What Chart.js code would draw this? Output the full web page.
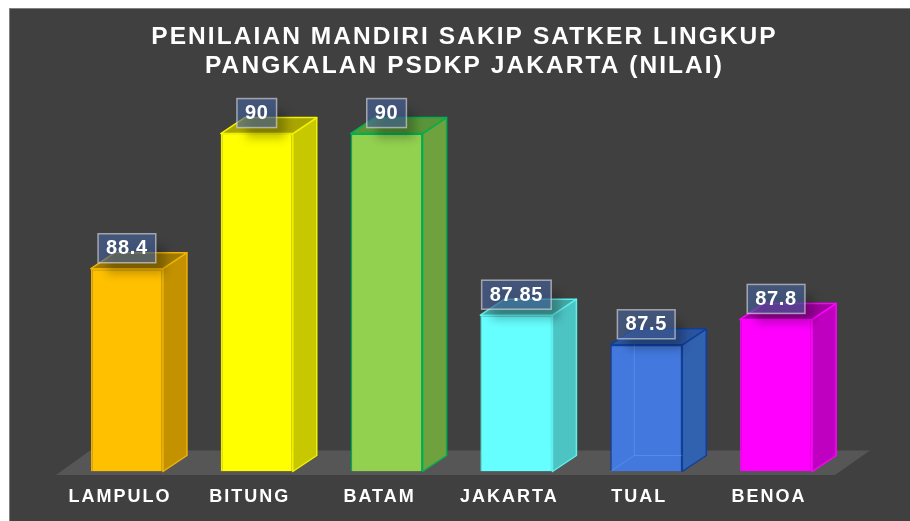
<!DOCTYPE html>
<html>
<head>
<meta charset="utf-8">
<style>
  html, body { margin: 0; padding: 0; background: #ffffff; }
  #wrap { position: absolute; left: 0; top: 0; width: 910px; height: 521px; }
</style>
</head>
<body>
<div id="wrap"><canvas id="grafik"></canvas></div>
<script src="https://cdn.jsdelivr.net/npm/chart.js@4"></script>
<script>
const JUDUL = ["PENILAIAN MANDIRI SAKIP SATKER LINGKUP", "PANGKALAN PSDKP JAKARTA (NILAI)"]
const SATKER = ["LAMPULO", "BITUNG", "BATAM", "JAKARTA", "TUAL", "BENOA"]
const NILAI = [88.4, 90, 90, 87.85, 87.5, 87.8]
const Y_MIN = 86
const Y_MAX = 90

const WARNA_DEPAN = ["#ffc000", "#ffff00", "#92d050", "#66ffff", "#4379df", "#ff00ff"]
const WARNA_GARIS = ["#f0b400", "#f2f200", "#00b050", "#5fefef", "#0f3f9c", "#ff00ff"]
const WARNA_SISI = ["#c49200", "#c8c800", "#6fa13f", "#4dc4c4", "#3162b0", "#c000c0"]
const WARNA_ATAS = ["#a07a00", "#a8a400", "#5a9438", "#45aaa6", "#2c549c", "#a000a0"]

const DX = 24
const DY = 16

// sisi samping, atas dan lantai, digambar dari posisi batang
const balok3d = {
  id: "balok3d",
  beforeDraw(chart) {
    const ctx = chart.ctx
    ctx.fillStyle = "#808080"
    ctx.fillRect(9, 8, chart.width - 9, chart.height - 8)
    ctx.fillStyle = "#404040"
    ctx.fillRect(10, 9, chart.width - 10, chart.height - 9)
    ctx.letterSpacing = "2.06px"
  },
  beforeDatasetsDraw(chart) {
    const ctx = chart.ctx
    const a = chart.chartArea
    ctx.save()
    ctx.fillStyle = "#565656"
    ctx.beginPath()
    ctx.moveTo(a.left - 6, a.bottom + 3.5)
    ctx.lineTo(a.left + 28, a.bottom - 21)
    ctx.lineTo(a.right + 29, a.bottom - 21)
    ctx.lineTo(a.right - 6, a.bottom + 3.5)
    ctx.closePath()
    ctx.fill()

    chart.getDatasetMeta(0).data.forEach((bar, i) => {
      const kiri = bar.x - bar.width / 2
      const kanan = bar.x + bar.width / 2
      ctx.lineWidth = 1.5
      ctx.lineJoin = "round"
      ctx.strokeStyle = WARNA_GARIS[i]

      ctx.fillStyle = WARNA_SISI[i]
      ctx.beginPath()
      ctx.moveTo(kanan, bar.y)
      ctx.lineTo(kanan + DX, bar.y - DY)
      ctx.lineTo(kanan + DX, bar.base - DY)
      ctx.lineTo(kanan, bar.base)
      ctx.closePath()
      ctx.fill()
      ctx.stroke()

      ctx.fillStyle = WARNA_ATAS[i]
      ctx.beginPath()
      ctx.moveTo(kiri, bar.y)
      ctx.lineTo(kiri + DX, bar.y - DY)
      ctx.lineTo(kanan + DX, bar.y - DY)
      ctx.lineTo(kanan, bar.y)
      ctx.closePath()
      ctx.fill()
      ctx.stroke()
    })
    ctx.restore()
  },
  afterDatasetsDraw(chart) {
    const ctx = chart.ctx
    const meta = chart.getDatasetMeta(0)

    // TUAL agak tembus pandang, garis belakangnya kelihatan
    const iTual = SATKER.indexOf("TUAL")
    const t = meta.data[iTual]
    const tKiri = t.x - t.width / 2
    const tKanan = t.x + t.width / 2
    ctx.save()
    ctx.strokeStyle = "rgba(140,175,245,0.3)"
    ctx.lineWidth = 1
    ctx.beginPath()
    ctx.moveTo(tKiri + DX, t.y)
    ctx.lineTo(tKiri + DX, t.base - DY)
    ctx.lineTo(tKiri, t.base)
    ctx.moveTo(tKiri + DX, t.base - DY)
    ctx.lineTo(tKanan, t.base - DY)
    ctx.stroke()
    ctx.restore()

    // kotak nilai di atas batang
    ctx.save()
    ctx.font = "bold 20px 'Liberation Sans'"
    ctx.letterSpacing = "0.7px"
    ctx.textAlign = "center"
    ctx.textBaseline = "middle"
    meta.data.forEach((bar, i) => {
      const teks = String(NILAI[i])
      const lebar = ctx.measureText(teks).width + 16
      const x = bar.x - lebar / 2
      const y = bar.y - 35
      ctx.save()
      ctx.shadowColor = "rgba(0,0,0,0.4)"
      ctx.shadowBlur = 9
      ctx.shadowOffsetX = 9
      ctx.shadowOffsetY = 11
      ctx.fillStyle = "rgba(70,100,160,0.6)"
      ctx.fillRect(x, y, lebar, 29)
      ctx.restore()
      ctx.strokeStyle = "rgba(215,215,220,0.65)"
      ctx.lineWidth = 1.5
      ctx.strokeRect(x, y, lebar, 29)
      ctx.fillStyle = "#ffffff"
      ctx.fillText(teks, bar.x, y + 15)
    })
    ctx.restore()
    ctx.letterSpacing = "2px"
  },
  afterLayout(chart) {
    // judul aslinya agak ke kanan dari pusat area batang
    chart.titleBlock.left += 13
    chart.titleBlock.right += 13
  },
  afterDraw(chart) {
    chart.ctx.letterSpacing = "0px"
  }
}

new Chart(document.getElementById("grafik"), {
  type: "bar",
  data: {
    labels: SATKER,
    datasets: [{
      data: NILAI,
      base: Y_MIN,
      backgroundColor: WARNA_DEPAN,
      borderColor: WARNA_GARIS,
      borderWidth: 1.5,
      barPercentage: 0.555,
      categoryPercentage: 1
    }]
  },
  options: {
    responsive: true,
    maintainAspectRatio: false,
    animation: false,
    layout: { padding: { left: 62, right: 69, top: 0, bottom: 12.5 } },
    plugins: {
      legend: { display: false },
      tooltip: { enabled: false },
      title: {
        display: true,
        text: JUDUL,
        color: "#ffffff",
        font: { family: "'Liberation Sans'", size: 24.5, weight: "bold", lineHeight: 1.185 },
        padding: { top: 23, bottom: 52.5 }
      }
    },
    scales: {
      x: {
        afterFit(scale) { scale.height = 37 },
        grid: { display: false, drawTicks: false },
        border: { display: false },
        ticks: {
          z: 1,
          color: "#ffffff",
          font: { family: "'Liberation Sans'", size: 18, weight: "bold" },
          padding: 15,
          labelOffset: -7,
          maxRotation: 0,
          autoSkip: false
        }
      },
      y: { display: false, min: Y_MIN, max: Y_MAX }
    }
  },
  plugins: [balok3d]
})
</script>
</body>
</html>
